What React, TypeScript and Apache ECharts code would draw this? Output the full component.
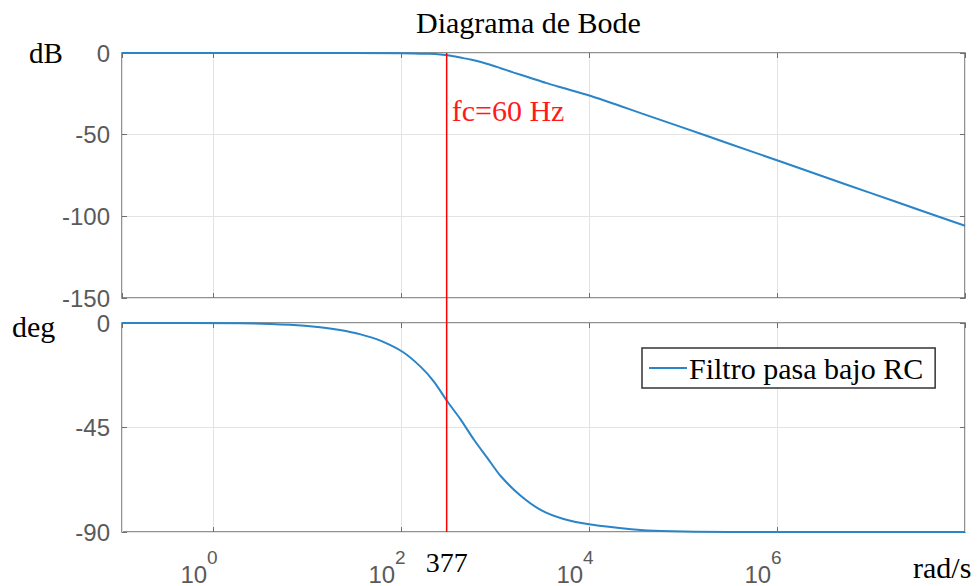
import React, { useEffect, useRef } from "react";
import * as echarts from "echarts";

// ---- data ----
const magOmega = [0.1076, 10, 100, 200, 263, 339, 427, 550, 708, 891, 1148, 1585, 2399, 3467, 5012, 10471, 21878, 35481, 100000, 316228, 1071519, 3162278, 10000000, 31622777, 100000000];
const magDb = [0, 0, -0.1, -0.5, -0.9, -1.7, -2.8, -4.0, -5.5, -7.2, -9.3, -12.0, -15.3, -18.3, -21.0, -26.3, -32.6, -36.8, -45.7, -55.7, -66.3, -75.8, -85.8, -95.8, -105.8];

const phaseOmega = [0.1076, 1.95, 6.6, 13.8, 22.4, 37.2, 60.3, 104.7, 162.2, 223.9, 309, 426.6, 602.6, 831.8, 1148, 1862, 3090, 5370, 10471, 28184, 58884, 316228, 100000000];
const phaseDeg = [0, -0.1, -0.8, -1.8, -3.0, -4.9, -7.6, -12.5, -18.9, -25.2, -33.6, -41.3, -50.5, -58.2, -65.9, -74.3, -80.6, -84.4, -86.8, -88.8, -89.6, -90, -90];

const xTickExponents = [0, 2, 4, 6];
const magRange = [-150, 0];
const magStep = 50;
const phaseRange = [-90, 0];
const phaseStep = 45;
const omegaRange = [0.1076, 100000000];

const cutoffOmega = 306;
const cutoffTick = "377";
const cutoffNote = "fc=60 Hz";
const seriesName = "Filtro pasa bajo RC";
const titleText = "Diagrama de Bode";
const magUnit = "dB";
const phaseUnit = "deg";
const freqUnit = "rad/s";

const SERIF = "'Liberation Serif', 'Times New Roman', serif";
const SANS = "'Liberation Sans', Arial, Helvetica, sans-serif";
const AXIS = "#6e6e6e";
const GRIDC = "#e3e3e3";
const LABEL = "#5a5a5a";
const BLUE = "#2a84c8";

export default function App() {
  const ref = useRef<HTMLDivElement>(null);
  useEffect(() => {
    document.body.style.margin = "0";
    if (!ref.current) return;
    const chart = echarts.init(ref.current, undefined, { renderer: "svg" });
    const lmin = Math.log10(omegaRange[0]);
    const lmax = Math.log10(omegaRange[1]);

    const isTickExp = (v: number) =>
      xTickExponents.some((e) => Math.abs(e - v) < 1e-6);

    const baseX = (grid: number, pos: "top" | "bottom", labels: boolean, split: boolean) => ({
      type: "value",
      gridIndex: grid,
      position: pos,
      min: lmin,
      max: lmax,
      splitNumber: 5,
      axisLine: { show: false, onZero: false },
      axisTick: { show: true, inside: true, length: 5, lineStyle: { color: AXIS, width: 1 } },
      splitLine: { show: split, lineStyle: { color: GRIDC, width: 1 } },
      axisLabel: labels
        ? {
            show: true,
            showMinLabel: false,
            showMaxLabel: false,
            margin: 16,
            padding: [0, 28, 0, 0],
            formatter: (v: number) => (isTickExp(v) ? `{b|10}{s|${Math.round(v)}}` : ""),
            rich: {
              b: { fontSize: 24, fontFamily: SANS, color: LABEL, lineHeight: 38, verticalAlign: "bottom" },
              s: { fontSize: 19, fontFamily: SANS, color: LABEL, lineHeight: 38, verticalAlign: "top" },
            },
          }
        : { show: false },
    });

    const baseY = (grid: number, pos: "left" | "right", range: number[], step: number, labels: boolean, split: boolean) => ({
      type: "value",
      gridIndex: grid,
      position: pos,
      min: range[0],
      max: range[1],
      interval: step,
      axisLine: { show: false, onZero: false },
      axisTick: { show: true, inside: true, length: 5, lineStyle: { color: AXIS, width: 1 } },
      splitLine: { show: split, lineStyle: { color: GRIDC, width: 1 } },
      axisLabel: labels
        ? { show: true, margin: 12, fontSize: 24, fontFamily: SANS, color: LABEL }
        : { show: false },
    });

    chart.setOption({
      animation: false,
      backgroundColor: "#ffffff",
      grid: [
        { left: 122, top: 53, width: 843, height: 245, show: true, borderColor: AXIS, borderWidth: 1.5, backgroundColor: "transparent" },
        { left: 122, top: 323, width: 843, height: 214, show: true, borderColor: AXIS, borderWidth: 1.5, backgroundColor: "transparent" },
      ],
      xAxis: [
        baseX(0, "bottom", false, true),
        baseX(1, "bottom", true, true),
        baseX(0, "top", false, false),
        baseX(1, "top", false, false),
      ],
      yAxis: [
        baseY(0, "left", magRange, magStep, true, true),
        baseY(1, "left", phaseRange, phaseStep, true, true),
        baseY(0, "right", magRange, magStep, false, false),
        baseY(1, "right", phaseRange, phaseStep, false, false),
      ],
      legend: {
        data: [seriesName],
        left: 642,
        top: 348,
        selectedMode: false,
        icon: "rect",
        itemWidth: 38,
        itemHeight: 2,
        itemGap: 0,
        padding: [5, 12, 5, 7],
        borderColor: "#333333",
        borderWidth: 1.5,
        backgroundColor: "#ffffff",
        textStyle: { fontFamily: SERIF, fontSize: 30, color: "#000000", padding: [0, 0, 0, -3] },
        z: 20,
      },
      series: [
        {
          name: seriesName,
          type: "line",
          xAxisIndex: 0,
          yAxisIndex: 0,
          symbol: "none",
          showSymbol: false,
          clip: false,
          smooth: 0.25,
          lineStyle: { color: BLUE, width: 2 },
          itemStyle: { color: BLUE },
          data: magOmega.map((w, i) => [Math.log10(w), magDb[i]]),
          z: 3,
        },
        {
          name: seriesName,
          type: "line",
          xAxisIndex: 1,
          yAxisIndex: 1,
          symbol: "none",
          showSymbol: false,
          clip: false,
          smooth: 0.25,
          lineStyle: { color: BLUE, width: 2 },
          itemStyle: { color: BLUE },
          data: phaseOmega.map((w, i) => [Math.log10(w), phaseDeg[i]]),
          z: 3,
        },
      ],
    });

    const xc = chart.convertToPixel({ xAxisIndex: 0 }, Math.log10(cutoffOmega)) as number;
    const yTop = chart.convertToPixel({ yAxisIndex: 0 }, 0) as number;
    const yBot = chart.convertToPixel({ yAxisIndex: 1 }, -90) as number;

    chart.setOption({
      graphic: [
        {
          type: "line",
          shape: { x1: xc, y1: yTop, x2: xc, y2: yBot },
          style: { stroke: "#ff0000", lineWidth: 1.5 },
          z: 100,
          silent: true,
        },
        {
          type: "text",
          x: xc + 5,
          y: 110,
          style: { text: cutoffNote, fill: "#ff1a1a", fontFamily: SERIF, fontSize: 30, align: "left", verticalAlign: "middle" },
          z: 100,
        },
        {
          type: "text",
          x: xc,
          y: 562,
          style: { text: cutoffTick, fill: "#000000", fontFamily: SERIF, fontSize: 28, align: "center", verticalAlign: "middle" },
          z: 100,
        },
        {
          type: "text",
          x: 416,
          y: 22,
          style: { text: titleText, fill: "#000000", fontFamily: SERIF, fontSize: 30, align: "left", verticalAlign: "middle" },
        },
        {
          type: "text",
          x: 29,
          y: 53,
          style: { text: magUnit, fill: "#000000", fontFamily: SERIF, fontSize: 29, align: "left", verticalAlign: "middle" },
        },
        {
          type: "text",
          x: 12,
          y: 326,
          style: { text: phaseUnit, fill: "#000000", fontFamily: SERIF, fontSize: 30, align: "left", verticalAlign: "middle" },
        },
        {
          type: "text",
          x: 913,
          y: 567,
          style: { text: freqUnit, fill: "#000000", fontFamily: SERIF, fontSize: 30, align: "left", verticalAlign: "middle" },
        },
      ],
    });

    return () => chart.dispose();
  }, []);
  return <div ref={ref} style={{ width: 977, height: 586 }} />;
}
